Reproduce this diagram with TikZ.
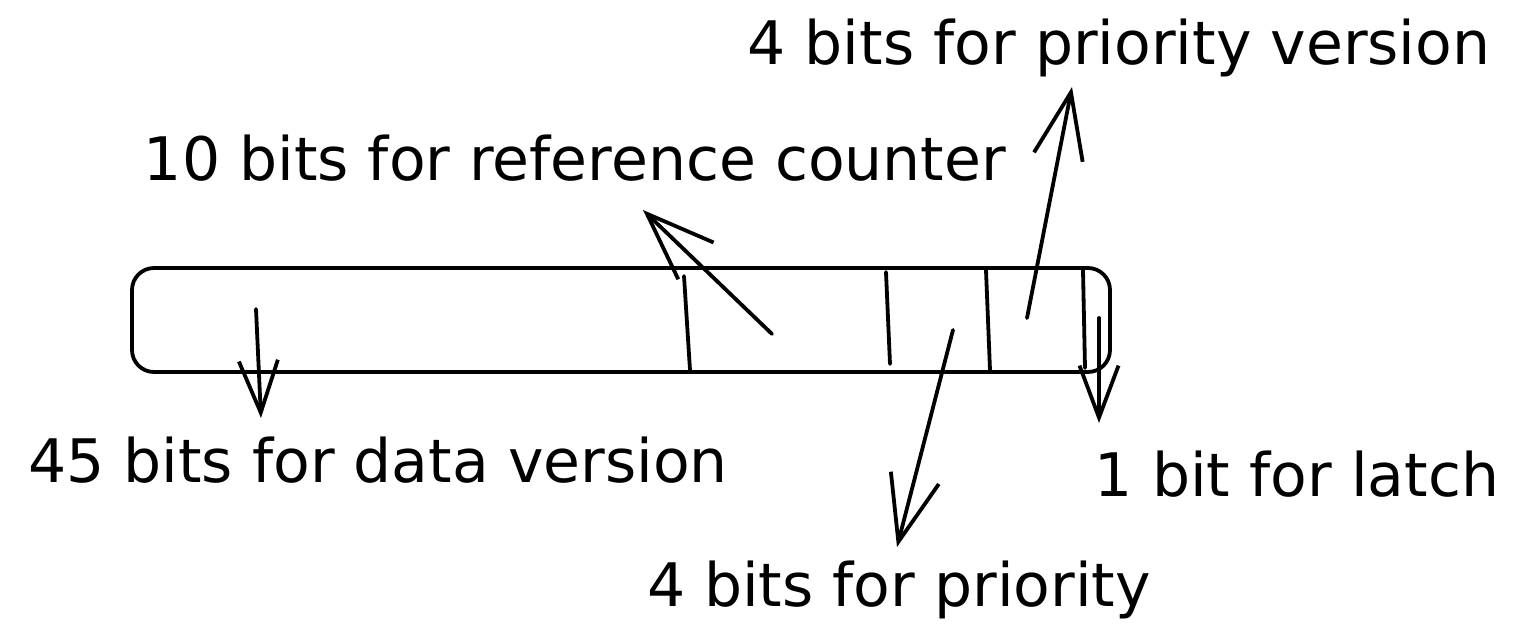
\documentclass[tikz,border=0pt]{standalone}
\usepackage{fontspec}
\newfontfamily\handfont{DejaVu Sans}
\usetikzlibrary{arrows.meta}
\begin{document}
\begin{tikzpicture}[x=0.5pt,y=-0.5pt,
  ink/.style={line width=1.9pt, line cap=round, line join=round, black},
  label/.style={font=\handfont\fontsize{30}{34}\selectfont, inner sep=0pt, anchor=center},
  bar/.style={ink, rounded corners=11pt},
  pointer/.style={ink, -{Straight Barb[length=#1pt, width=#1pt*0.75, line width=1.9pt]}},
  pointer/.default=30]
\useasboundingbox (0,0) rectangle (1522,633);
% the bar
\draw[bar] (132,268) rectangle (1110,372);
\coordinate (d1t) at (684,276); \coordinate (d1b) at (690,370);
\coordinate (d2t) at (886,272); \coordinate (d2b) at (890,364);
\coordinate (d3t) at (986,270); \coordinate (d3b) at (990,370);
\coordinate (d4t) at (1083,270); \coordinate (d4b) at (1085,368);
\draw[ink] (d1t) -- (d1b);
\draw[ink] (d2t) -- (d2b);
\draw[ink] (d3t) -- (d3b);
\draw[ink] (d4t) -- (d4b);
% labels
\node[label] (prv) at (1119,48) {4 bits for priority version};
\node[label] (ref) at (575,158) {10 bits for reference counter};
\node[label] (dat) at (378,460) {45 bits for data version};
\node[label] (lat) at (1297,474) {1 bit for latch};
\node[label] (pri) at (899,590) {4 bits for priority};
% arrow ends
\coordinate (a1s) at (256,309); \coordinate (a1e) at (261,418);
\coordinate (a2s) at (772,334); \coordinate (a2e) at (643,210);
\coordinate (a3s) at (1027,318); \coordinate (a3e) at (1072,87);
\coordinate (a4s) at (953,330); \coordinate (a4e) at (897,547);
\coordinate (a5s) at (1099,318); \coordinate (a5e) at (1099,423);
\draw[pointer=26] (a1s) -- (a1e);
\draw[pointer=34] (a2s) -- (a2e);
\draw[pointer=33] (a3s) -- (a3e);
\draw[pointer=33] (a4s) -- (a4e);
\draw[pointer=26] (a5s) -- (a5e);
\end{tikzpicture}
\end{document}
